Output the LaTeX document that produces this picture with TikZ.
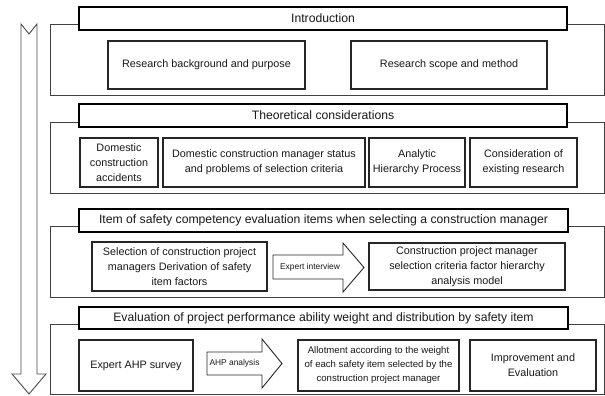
\documentclass[tikz,border=0pt]{standalone}
\usepackage{fontspec}
\setmainfont{Liberation Sans}
\begin{document}
\begin{tikzpicture}[x=1pt,y=-1pt,
  outerbox/.style={draw=black!75,line width=0.9pt},
  titlebox/.style={draw=black,line width=2pt,fill=white,inner sep=0pt,font=\fontsize{12.2}{15}\selectfont,text=black!90},
  innerbox/.style={draw=black!85,line width=1.1pt,fill=white,inner sep=0pt,align=center,font=\fontsize{10.8}{15}\selectfont,text=black!90},
  blockarrow/.style={draw=black!85,line width=0.9pt,fill=white,line join=miter},
  arrowtext/.style={inner sep=0pt,font=\fontsize{8.4}{10}\selectfont,text=black!90}
]
\useasboundingbox (0,0) rectangle (605,396);
% big flow arrow
\draw[blockarrow,draw=black!70] (21,24) -- (29,34) -- (37,24) -- (37,374) -- (46,374) -- (29,394) -- (12,374) -- (21,374) -- cycle;
% section 1
\draw[outerbox] (50,24) rectangle (604,95);
\node[titlebox,minimum width=488pt,minimum height=23pt] (t1) at (323,18.5) {Introduction};
\node[innerbox,minimum width=197pt,minimum height=48pt] (a1) at (206.5,65) {Research background and purpose};
\node[innerbox,minimum width=196pt,minimum height=48pt] (a2) at (449,65) {Research scope and method};
% section 2
\draw[outerbox] (50,122) rectangle (604,193);
\node[titlebox,minimum width=488pt,minimum height=23pt] (t2) at (323,115.5) {Theoretical considerations};
\node[innerbox,minimum width=78pt,minimum height=49pt] (b1) at (119,162.5) {Domestic\\construction\\accidents};
\node[innerbox,minimum width=202pt,minimum height=49pt] (b2) at (264,162.5) {Domestic construction manager status\\and problems of selection criteria};
\node[innerbox,minimum width=96pt,minimum height=49pt] (b3) at (417,162.5) {Analytic\\Hierarchy Process};
\node[innerbox,minimum width=107pt,minimum height=49pt] (b4) at (523.5,162.5) {Consideration of\\existing research};
% section 3
\draw[outerbox] (50,226) rectangle (604,297);
\node[titlebox,minimum width=489pt,minimum height=23pt] (t3) at (323.5,220.5) {Item of safety competency evaluation items when selecting a construction manager};
\node[innerbox,minimum width=175pt,minimum height=49pt] (c1) at (179.5,266.5) {Selection of construction project\\managers Derivation of safety\\item factors};
\draw[blockarrow] (273,255) -- (343,255) -- (343,243) -- (364,267.5) -- (343,292) -- (343,279) -- (273,279) -- cycle;
\node[arrowtext] (c2) at (310,267.5) {Expert interview};
\node[innerbox,minimum width=196pt,minimum height=47pt] (c3) at (467,266.5) {Construction project manager\\selection criteria factor hierarchy\\analysis model};
% section 4
\draw[outerbox] (50,324) rectangle (604,394);
\node[titlebox,minimum width=489pt,minimum height=22pt] (t4) at (323.5,318) {Evaluation of project performance ability weight and distribution by safety item};
\node[innerbox,minimum width=114pt,minimum height=51pt] (d1) at (136,365.5) {Expert AHP survey};
\draw[blockarrow] (207,352) -- (262,352) -- (262,339) -- (282,363.5) -- (262,388) -- (262,375) -- (207,375) -- cycle;
\node[arrowtext] (d2) at (234.5,363.5) {AHP analysis};
\node[innerbox,minimum width=161pt,minimum height=51pt,font=\fontsize{9.6}{14}\selectfont] (d3) at (378.5,365.5) {Allotment according to the weight\\of each safety item selected by the\\construction project manager};
\node[innerbox,minimum width=126pt,minimum height=51pt] (d4) at (533,365.5) {Improvement and\\Evaluation};
\end{tikzpicture}
\end{document}
